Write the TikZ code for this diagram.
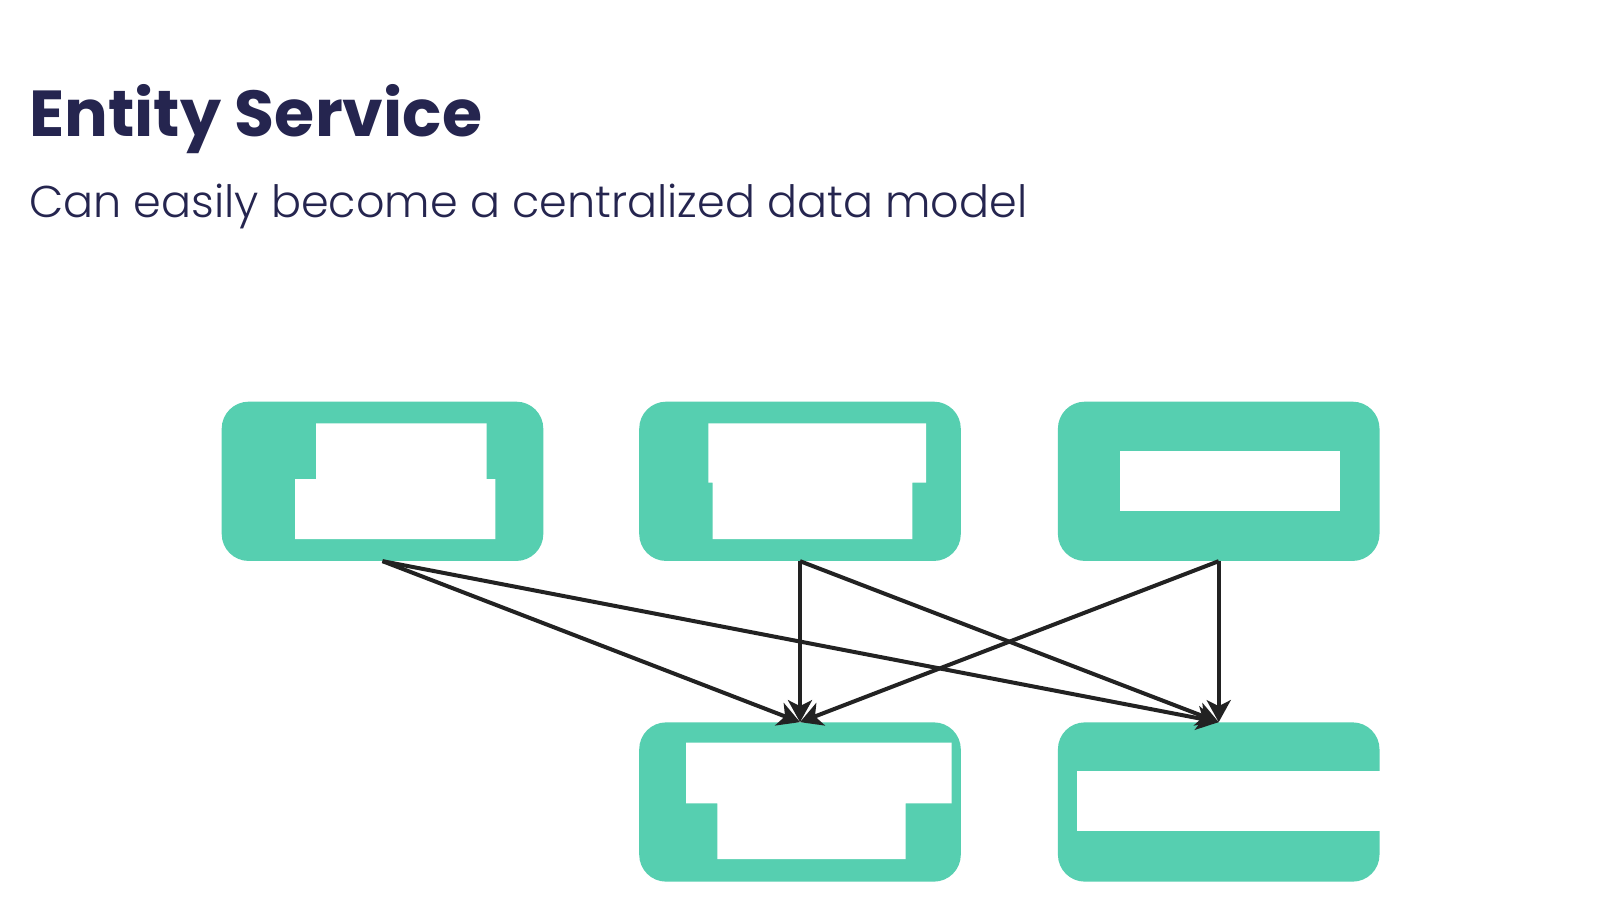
\documentclass[tikz,border=0pt]{standalone}
\usepackage{fontspec}
\setmainfont{Poppins}
\newfontfamily\sublight{Poppins Light}
\usetikzlibrary{arrows.meta}
\definecolor{navy}{HTML}{25254F}
\definecolor{mint}{HTML}{56CFB0}
\definecolor{ink}{HTML}{222222}
\begin{document}
\begin{tikzpicture}[x=1pt,y=-1pt,
  svc/.style={fill=mint, draw=none, rounded corners=27pt, minimum width=321.6pt, minimum height=159.3pt, inner sep=0pt},
  hole/.style={fill=white, draw=none},
  link/.style={draw=ink, line width=4pt, -{Stealth[length=22pt,width=24pt,inset=6pt]}},
  txt/.style={anchor=base west, text=navy, inner sep=0pt}]
\useasboundingbox[fill=white] (0,0) rectangle (1600,900);

\node[txt, font=\bfseries\fontsize{65}{78}\selectfont] (title) at (29,136) {Entity Service};
\node[txt, font=\sublight\fontsize{44.5}{52}\selectfont] (sub) at (29,217.5) {Can easily become a centralized data model};

\node[svc] (b1) at (382.5,481.3) {};
\node[svc] (b2) at (800,481.3) {};
\node[svc] (b3) at (1218.7,481.3) {};
\node[svc] (b4) at (800,802) {};
\node[svc] (b5) at (1218.7,802) {};

\fill[hole] (316,423.3) -- (486.7,423.3) -- (486.7,479) -- (495.3,479) -- (495.3,539) -- (295,539) -- (295,479) -- (316,479) -- cycle;
\fill[hole] (708.3,423.3) -- (926,423.3) -- (926,482.7) -- (912.3,482.7) -- (912.3,539) -- (712.7,539) -- (712.7,482.7) -- (708.3,482.7) -- cycle;
\fill[hole] (1120,451) rectangle (1340,511);
\fill[hole] (686,742.7) -- (951.7,742.7) -- (951.7,803.3) -- (905.7,803.3) -- (905.7,859) -- (717.3,859) -- (717.3,803.3) -- (686,803.3) -- cycle;
\fill[hole] (1077.3,770.7) rectangle (1381,831);

\draw[link] (b1.south) -- (b4.north);
\draw[link] (b1.south) -- (b5.north);
\draw[link] (b2.south) -- (b4.north);
\draw[link] (b2.south) -- (b5.north);
\draw[link] (b3.south) -- (b4.north);
\draw[link] (b3.south) -- (b5.north);
\end{tikzpicture}
\end{document}
